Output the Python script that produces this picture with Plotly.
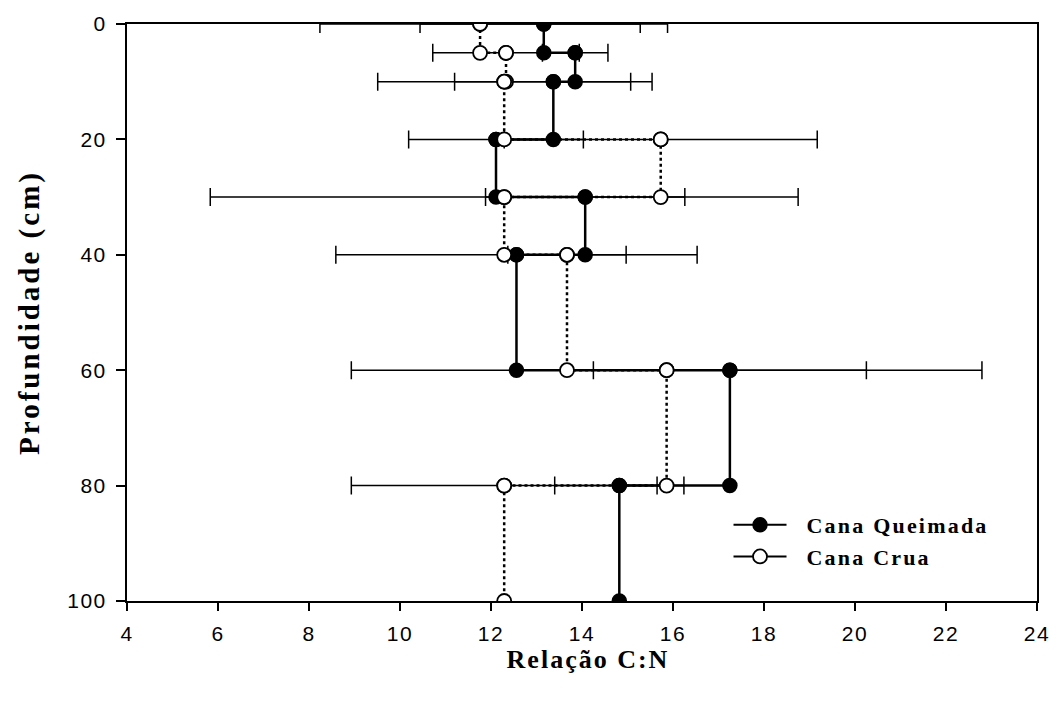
import plotly.graph_objects as go

# Layer boundaries (cm)
depth_top = [0, 5, 10, 20, 30, 40, 60, 80]
depth_bottom = [5, 10, 20, 30, 40, 60, 80, 100]

# C:N ratio per layer
queimada = [13.16, 13.85, 13.37, 12.11, 14.07, 12.56, 17.25, 14.82]
queimada_sd = [2.72, 0.72, 2.17, 1.92, 2.19, 3.97, 3.00, 1.42]
crua = [11.76, 12.33, 12.29, 15.73, 12.29, 13.67, 15.86, 12.29]
crua_sd = [3.52, 1.61, 2.78, 3.44, 6.46, 1.30, 6.93, 3.36]

x_ticks = [4, 6, 8, 10, 12, 14, 16, 18, 20, 22, 24]
y_ticks = [0, 20, 40, 60, 80, 100]


def step_path(values):
    xs, ys = [], []
    for v, t, b in zip(values, depth_top, depth_bottom):
        xs += [v, v]
        ys += [t, b]
    return xs, ys


SERIF = "Liberation Serif, Times New Roman, serif"
SANS = "Liberation Sans, Arial, sans-serif"

filled_marker = dict(symbol="circle", size=14, color="black", line=dict(color="black", width=1.5))
open_marker = dict(symbol="circle", size=14, color="white", line=dict(color="black", width=1.8))

fig = go.Figure()

qx, qy = step_path(queimada)
cx, cy = step_path(crua)

# Queimada error bars (top of each layer)
fig.add_trace(go.Scatter(
    x=queimada, y=depth_top, mode="markers", marker=filled_marker, showlegend=False,
    error_x=dict(type="data", array=queimada_sd, symmetric=True, color="black", thickness=1.5, width=9),
    hoverinfo="skip"))
# Queimada profile
fig.add_trace(go.Scatter(
    x=qx, y=qy, mode="lines+markers", name="Cana Queimada", showlegend=False,
    line=dict(color="black", width=2.5), marker=filled_marker))
# Crua error bars
fig.add_trace(go.Scatter(
    x=crua, y=depth_top, mode="markers", marker=open_marker, showlegend=False,
    error_x=dict(type="data", array=crua_sd, symmetric=True, color="black", thickness=1.5, width=9),
    hoverinfo="skip"))
# Crua profile
fig.add_trace(go.Scatter(
    x=cx, y=cy, mode="lines+markers", name="Cana Crua", showlegend=False,
    line=dict(color="black", width=2.5, dash="dot"), marker=open_marker))

# Legend entries (solid key lines as in the original key)
fig.add_trace(go.Scatter(x=[None], y=[None], mode="lines+markers", name="Cana Queimada",
                         line=dict(color="black", width=2), marker=filled_marker, legendgroup="q"))
fig.add_trace(go.Scatter(x=[None], y=[None], mode="lines+markers", name="Cana Crua",
                         line=dict(color="black", width=2), marker=open_marker, legendgroup="c"))

fig.update_layout(
    width=1061, height=701,
    margin=dict(l=127, r=18, t=19, b=100),
    paper_bgcolor="white", plot_bgcolor="white",
    showlegend=True,
    legend=dict(
        x=0.661, y=0.168, xanchor="left", yanchor="top",
        bgcolor="rgba(0,0,0,0)", borderwidth=0,
        font=dict(family=SERIF, size=22, color="black", weight="bold"),
        tracegroupgap=0, traceorder="grouped", itemwidth=53,
    ),
)

fig.update_xaxes(
    range=[4, 24], tickvals=x_ticks, ticktext=[str(v) for v in x_ticks],
    showgrid=False, zeroline=False,
    showline=True, linecolor="black", linewidth=2, mirror=True,
    ticks="outside", ticklen=8, tickwidth=1.5, tickcolor="black", ticklabelstandoff=5,
    tickfont=dict(family=SANS, size=21, color="black"),
    title=dict(text="Relação C:N", font=dict(family=SERIF, size=26, color="black", weight="bold"), standoff=6),
)
fig.update_yaxes(
    range=[100, 0], tickvals=y_ticks, ticktext=[str(v) for v in y_ticks],
    showgrid=False, zeroline=False,
    showline=True, linecolor="black", linewidth=2, mirror=True,
    ticks="outside", ticklen=9, tickwidth=1.5, tickcolor="black", ticklabelstandoff=5,
    tickfont=dict(family=SANS, size=21, color="black"),
    title=dict(text="Profundidade (cm)", font=dict(family=SERIF, size=29, color="black", weight="bold"), standoff=24),
)

post = """
var gd = document.getElementById('{plot_id}');
function ls() {
  gd.querySelectorAll('.xtick text, .ytick text').forEach(function(e){ e.style.letterSpacing = '1.5px'; });
  gd.querySelectorAll('.g-xtitle text').forEach(function(e){
    e.style.letterSpacing = '2px';
    e.setAttribute('transform', 'translate(6,0)');
  });
  gd.querySelectorAll('.g-ytitle text').forEach(function(e){ e.style.letterSpacing = '3px'; });
  gd.querySelectorAll('.legendtext').forEach(function(e){
    e.style.letterSpacing = '2.2px';
    e.setAttribute('transform', 'translate(15,0)');
  });
  gd.querySelectorAll('.legend [clip-path], .legend .scrollbox').forEach(function(e){ e.removeAttribute('clip-path'); });
}
ls();
if (gd.on) { gd.on('plotly_afterplot', ls); }
setTimeout(ls, 50);
"""

fig.write_html("out.html", post_script=post)
